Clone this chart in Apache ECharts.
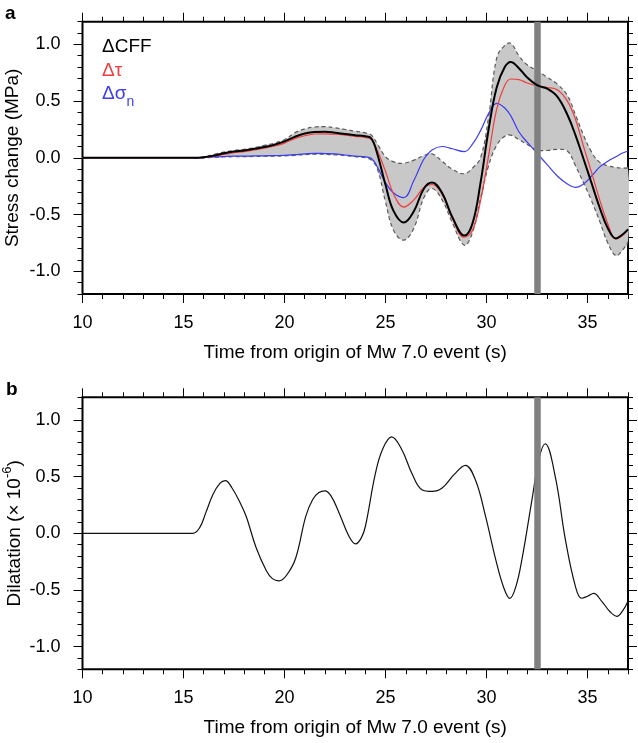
<!DOCTYPE html>
<html><head><meta charset="utf-8">
<script src="https://cdn.jsdelivr.net/npm/echarts@6/dist/echarts.min.js"></script>
<style>html,body{margin:0;padding:0;background:#fff}#c{width:638px;height:743px}</style>
</head><body><div id="c"></div>
<script>
// ---------- Panel a: stress change (MPa) ----------
const timeA = [10, 15.5, 16, 16.5, 17, 17.5, 18, 18.5, 19, 19.5, 20, 20.5, 21, 21.5, 22, 22.5, 23, 23.5, 24, 24.3, 24.6, 25, 25.4, 25.9, 26.4, 26.9, 27.3, 27.8, 28.3, 28.9, 29.3, 29.7, 30.1, 30.5, 30.9, 31.2, 31.6, 32, 32.5, 33, 33.5, 34, 34.4, 34.8, 35.2, 35.6, 36, 36.4, 36.7, 37];
const cffA = [0, 0, 0.005, 0.02, 0.04, 0.055, 0.065, 0.08, 0.095, 0.115, 0.145, 0.185, 0.215, 0.228, 0.23, 0.222, 0.21, 0.2, 0.19, 0.17, 0.03, -0.24, -0.47, -0.57, -0.47, -0.27, -0.217, -0.31, -0.52, -0.685, -0.58, -0.22, 0.25, 0.62, 0.80, 0.845, 0.79, 0.71, 0.64, 0.61, 0.54, 0.38, 0.2, -0.01, -0.225, -0.44, -0.62, -0.71, -0.68, -0.63];
const tauA = [0, 0, 0.003, 0.015, 0.03, 0.045, 0.055, 0.07, 0.085, 0.105, 0.13, 0.17, 0.195, 0.21, 0.212, 0.208, 0.2, 0.19, 0.18, 0.16, 0.06, -0.12, -0.32, -0.434, -0.37, -0.26, -0.235, -0.32, -0.53, -0.70, -0.64, -0.38, 0.02, 0.43, 0.64, 0.695, 0.69, 0.66, 0.633, 0.62, 0.6, 0.5, 0.34, 0.1, -0.13, -0.37, -0.58, -0.715, -0.69, -0.63];
const sigmaA = [0, 0, 0.002, 0.008, 0.012, 0.015, 0.015, 0.017, 0.018, 0.02, 0.022, 0.028, 0.035, 0.04, 0.038, 0.035, 0.025, 0.015, 0.008, -0.005, -0.08, -0.22, -0.31, -0.35, -0.2, -0.01, 0.07, 0.1, 0.08, 0.055, 0.12, 0.24, 0.39, 0.48, 0.44, 0.37, 0.23, 0.14, 0.04, -0.06, -0.16, -0.23, -0.26, -0.23, -0.16, -0.08, -0.03, 0.01, 0.04, 0.06];
const bandUpperA = [0, 0, 0.008, 0.03, 0.05, 0.065, 0.075, 0.09, 0.11, 0.13, 0.16, 0.22, 0.255, 0.272, 0.275, 0.265, 0.25, 0.235, 0.22, 0.2, 0.12, 0.01, -0.035, -0.047, -0.02, 0.02, 0.035, -0.03, -0.1, -0.14, -0.09, 0.0, 0.36, 0.88, 0.99, 1.01, 0.9, 0.82, 0.77, 0.71, 0.65, 0.55, 0.38, 0.2, 0.05, -0.04, -0.07, -0.085, -0.09, -0.09];
const bandLowerA = [0, 0, 0, 0.005, 0.008, 0.01, 0.01, 0.012, 0.014, 0.015, 0.017, 0.022, 0.028, 0.032, 0.03, 0.027, 0.02, 0.01, 0.002, -0.02, -0.1, -0.39, -0.64, -0.725, -0.62, -0.35, -0.27, -0.37, -0.57, -0.77, -0.66, -0.36, -0.07, 0.11, 0.19, 0.2, 0.16, 0.12, 0.07, 0.065, 0.075, 0.06, -0.07, -0.22, -0.38, -0.56, -0.75, -0.862, -0.82, -0.74];

// ---------- Panel b: dilatation (x 10^-6) ----------
const timeB = [10, 15.45, 15.8, 16.1, 16.45, 16.8, 17.07, 17.4, 17.8, 18.1, 18.6, 19.1, 19.4, 19.73, 20.1, 20.55, 21.05, 21.4, 21.7, 22.0, 22.3, 22.7, 23.2, 23.52, 23.8, 24.0, 24.5, 24.85, 25.3, 25.8, 26.3, 26.8, 27.3, 27.8, 28.4, 28.95, 29.45, 29.95, 30.45, 30.85, 31.15, 31.45, 31.75, 32.25, 32.6, 32.9, 33.4, 33.9, 34.4, 34.7, 35.0, 35.3, 35.7, 36.1, 36.45, 36.75, 37];
const dilatationB = [0, 0, 0.05, 0.18, 0.34, 0.44, 0.465, 0.40, 0.27, 0.15, -0.13, -0.33, -0.40, -0.42, -0.37, -0.22, 0.15, 0.30, 0.36, 0.375, 0.33, 0.18, -0.03, -0.093, -0.04, 0.06, 0.53, 0.74, 0.85, 0.74, 0.53, 0.385, 0.37, 0.40, 0.52, 0.60, 0.47, 0.15, -0.23, -0.48, -0.575, -0.47, -0.23, 0.30, 0.66, 0.79, 0.50, -0.055, -0.47, -0.573, -0.555, -0.53, -0.6, -0.69, -0.733, -0.68, -0.6];

// ---------- common ----------
const eventTime = 32.5;
const xMajorTicks = [10, 15, 20, 25, 30, 35];
const yMajorTicks = [-1, -0.5, 0, 0.5, 1];
const seriesNames = ['ΔCFF', 'Δτ', 'Δσn'];
const xTitle = 'Time from origin of Mw 7.0 event (s)';

const FONT = "'Liberation Sans', Arial, Helvetica, sans-serif";
const RED = '#f23c3c', BLUE = '#3c3cf2';
const SM = 0.4;

const zip = (t, v) => t.map((x, i) => [x, v[i]]);

function axesFor(gi, yName, yRich, yGap) {
  const xs = [], ys = [];
  ['bottom', 'top'].forEach(pos => {
    xs.push({gridIndex: gi, type: 'value', position: pos, min: 10, max: 37, interval: 1,
      axisLine: {show: false, onZero: false},
      axisTick: {show: true, inside: false, length: 5, lineStyle: {color: '#000', width: 1}},
      axisLabel: {show: false}, splitLine: {show: false}});
    const major = {gridIndex: gi, type: 'value', position: pos, min: 10, max: 37,
      axisLine: {show: false, onZero: false},
      axisTick: {show: true, inside: false, length: 9, customValues: xMajorTicks, lineStyle: {color: '#000', width: 1}},
      axisLabel: {show: pos === 'bottom', customValues: xMajorTicks, fontSize: 18, fontFamily: FONT, color: '#000', margin: 20},
      splitLine: {show: false}};
    if (pos === 'bottom') {
      major.name = xTitle; major.nameLocation = 'middle'; major.nameGap = 49; major.nameMoveOverlap = false;
      major.nameTextStyle = {fontSize: 19, fontFamily: FONT, color: '#000'};
    }
    xs.push(major);
  });
  ['left', 'right'].forEach(pos => {
    ys.push({gridIndex: gi, type: 'value', position: pos, min: -1.2, max: 1.2, interval: 0.1,
      axisLine: {show: false, onZero: false},
      axisTick: {show: true, inside: false, length: 5, lineStyle: {color: '#000', width: 1}},
      axisLabel: {show: false}, splitLine: {show: false}});
    const major = {gridIndex: gi, type: 'value', position: pos, min: -1.2, max: 1.2,
      axisLine: {show: false, onZero: false},
      axisTick: {show: true, inside: false, length: 9, customValues: yMajorTicks, lineStyle: {color: '#000', width: 1}},
      axisLabel: {show: pos === 'left', customValues: yMajorTicks, fontSize: 18, fontFamily: FONT, color: '#000', margin: 22,
        formatter: v => Number(v).toFixed(1)},
      splitLine: {show: false}};
    if (pos === 'left') {
      major.name = yName; major.nameLocation = 'middle'; major.nameGap = yGap; major.nameRotate = 90;
      major.nameMoveOverlap = false;
      major.nameTextStyle = {fontSize: 19, fontFamily: FONT, color: '#000', rich: yRich};
    }
    ys.push(major);
  });
  return {xs, ys};
}

const yRichB = {
  a: {fontSize: 19, fontFamily: FONT, color: '#000', lineHeight: 24, verticalAlign: 'bottom'},
  s: {fontSize: 13, fontFamily: FONT, color: '#000', lineHeight: 24, verticalAlign: 'top'}
};
const A = axesFor(0, 'Stress change (MPa)', undefined, 60);
const B = axesFor(1, '{a|Dilatation (× 10}{s|-6}{a|)}', yRichB, 58);

const base = {type: 'line', symbol: 'none', smooth: SM, animation: false, silent: true};

// Uncertainty band (filled between lower and upper bounds, dashed outlines)
function renderBand(params, api) {
  if (params.dataIndex !== 0) return null;
  const up = [], lo = [];
  for (let i = 1; i < timeA.length; i++) {
    up.push(api.coord([timeA[i], bandUpperA[i]]));
    lo.push(api.coord([timeA[i], bandLowerA[i]]));
  }
  const poly = up.concat(lo.slice().reverse());
  return {
    type: 'group',
    children: [
      {type: 'polygon', shape: {points: poly, smooth: SM}, style: {fill: '#c8c8c8', stroke: null}},
      {type: 'polyline', shape: {points: up, smooth: SM}, style: {stroke: '#5a5a5a', lineWidth: 1.2, lineDash: [4, 3], fill: null}},
      {type: 'polyline', shape: {points: lo, smooth: SM}, style: {stroke: '#5a5a5a', lineWidth: 1.2, lineDash: [4, 3], fill: null}}
    ]
  };
}

const gridCommon = {left: 82.5, width: 545.5, show: true, borderColor: '#000', borderWidth: 2,
  backgroundColor: 'transparent', containLabel: false, outerBoundsMode: 'none'};

const option = {
  animation: false,
  backgroundColor: '#fff',
  title: [
    {text: 'a', left: 5, top: 4, padding: 0, textStyle: {fontSize: 19, fontWeight: 'bold', fontFamily: FONT, color: '#000'}},
    {text: 'b', left: 6, top: 380, padding: 0, textStyle: {fontSize: 19, fontWeight: 'bold', fontFamily: FONT, color: '#000'}}
  ],
  legend: {
    left: 92, top: 31, orient: 'vertical', icon: 'none', itemWidth: 0, itemHeight: 0, itemGap: 3,
    selectedMode: false,
    textStyle: {fontSize: 19, fontFamily: FONT, lineHeight: 21,
      rich: {
        m: {fontSize: 19, fontFamily: FONT, lineHeight: 21, verticalAlign: 'top'},
        sub: {fontSize: 14, fontFamily: FONT, lineHeight: 25, verticalAlign: 'bottom'}
      }},
    formatter: n => n === 'Δσn' ? '{m|Δσ}{sub|n}' : n,
    data: [
      {name: seriesNames[0], textStyle: {color: '#000'}},
      {name: seriesNames[1], textStyle: {color: RED}},
      {name: seriesNames[2], textStyle: {color: BLUE}}
    ]
  },
  grid: [
    Object.assign({}, gridCommon, {top: 21.7, height: 272.3}),
    Object.assign({}, gridCommon, {top: 397.3, height: 272})
  ],
  xAxis: A.xs.concat(B.xs),
  yAxis: A.ys.concat(B.ys),
  series: [
    {type: 'custom', name: 'band', xAxisIndex: 1, yAxisIndex: 1, clip: true, silent: true, animation: false, z: 1,
      data: timeA.map((t, i) => [t, bandLowerA[i], bandUpperA[i]]),
      encode: {x: 0, y: [1, 2]},
      renderItem: renderBand},
    Object.assign({}, base, {name: seriesNames[2], xAxisIndex: 1, yAxisIndex: 1, data: zip(timeA, sigmaA),
      color: BLUE, lineStyle: {color: BLUE, width: 1.2}, z: 3}),
    Object.assign({}, base, {name: seriesNames[1], xAxisIndex: 1, yAxisIndex: 1, data: zip(timeA, tauA),
      color: RED, lineStyle: {color: RED, width: 1.2}, z: 4}),
    Object.assign({}, base, {name: seriesNames[0], xAxisIndex: 1, yAxisIndex: 1, data: zip(timeA, cffA),
      color: '#000', lineStyle: {color: '#000', width: 2}, z: 5}),
    Object.assign({}, base, {name: 'eventA', xAxisIndex: 1, yAxisIndex: 1, data: [], z: 6,
      markLine: {silent: true, symbol: ['none', 'none'], label: {show: false}, animation: false,
        lineStyle: {color: '#808080', width: 6.5, type: 'solid', opacity: 1}, data: [{xAxis: eventTime}]}}),
    Object.assign({}, base, {name: 'Dilatation', xAxisIndex: 5, yAxisIndex: 5, data: zip(timeB, dilatationB),
      color: '#000', lineStyle: {color: '#111', width: 1.2}, z: 3}),
    Object.assign({}, base, {name: 'eventB', xAxisIndex: 5, yAxisIndex: 5, data: [], z: 6,
      markLine: {silent: true, symbol: ['none', 'none'], label: {show: false}, animation: false,
        lineStyle: {color: '#808080', width: 6.5, type: 'solid', opacity: 1}, data: [{xAxis: eventTime}]}})
  ]
};

const chart = echarts.init(document.getElementById('c'), null, {renderer: 'canvas'});
chart.setOption(option);
</script>
</body></html>
